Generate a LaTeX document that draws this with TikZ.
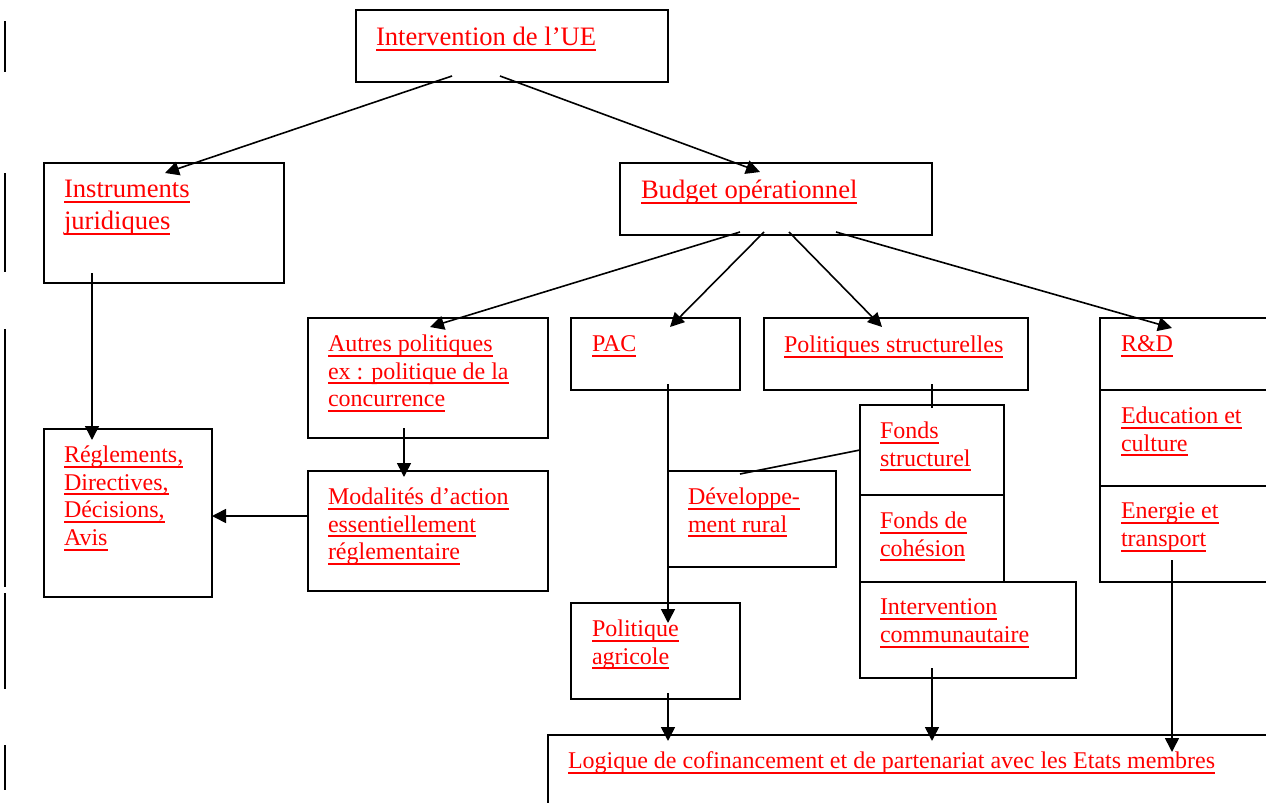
\documentclass[tikz,border=0pt]{standalone}
\usepackage{fontspec}
\setmainfont{Liberation Serif}
\usetikzlibrary{positioning,arrows.meta}
\newcommand{\undl}[1]{\setbox0=\hbox{#1}\rlap{\rule[-2.6pt]{\wd0}{1pt}}\box0}
\tikzset{box node/.style 2 args={draw,line width=0.9pt,rectangle,anchor=north west,inner sep=0pt,outer sep=0pt,
                                  minimum width=#1*0.5pt,minimum height=#2*0.5pt},
         txt node/.style={align=left,inner sep=0pt,outer sep=0pt,text=red,font=\fontsize{12}{13.8}\selectfont},
         big txt/.style={font=\fontsize{13.3}{16}\selectfont},
         arrow line/.style={line width=0.8pt,-{Triangle[length=7pt,width=7pt]}},
         plain line/.style={line width=0.8pt},
         bar line/.style={line width=1pt},
            }

\begin{document}
\begin{tikzpicture}[x=0.5pt,y=-0.5pt]
    \clip (0,0) rectangle (1266,803);

    \draw[bar line] (5,21) -- (5,72);
    \draw[bar line] (5,173) -- (5,272);
    \draw[bar line] (5,329) -- (5,587);
    \draw[bar line] (5,593) -- (5,689);
    \draw[bar line] (5,745) -- (5,790);

    \node[box node={312}{72}] (ue) at (356,10) {};
    \node[box node={240}{120}] (instr) at (44,163) {};
    \node[box node={312}{72}] (budget) at (620,163) {};
    \node[box node={240}{120}] (autres) at (308,318) {};
    \node[box node={169}{72}] (pac) at (571,318) {};
    \node[box node={264}{72}] (polstruct) at (764,318) {};
    \node[box node={180}{72}] (rd) at (1100,318) {};
    \node[box node={180}{96}] (educ) at (1100,390) {};
    \node[box node={180}{96}] (energie) at (1100,486) {};
    \node[box node={168}{168}] (regl) at (44,429) {};
    \node[box node={240}{120}] (modal) at (308,471) {};
    \node[box node={144}{90}] (fstruct) at (860,405) {};
    \node[box node={144}{87}] (fcohes) at (860,495) {};
    \node[box node={168}{96}] (dev) at (668,471) {};
    \node[box node={216}{96}] (intcom) at (860,582) {};
    \node[box node={169}{96}] (polagri) at (571,603) {};
    \node[box node={740}{100}] (logique) at (548,735) {};

    \node[txt node,big txt] (ue-t) [below right=8.5pt and 10pt of ue.north west] {\undl{Intervention de l’UE}};
    \node[txt node,big txt] (instr-t) [below right=8.5pt and 10pt of instr.north west] {\undl{Instruments}\\\undl{juridiques}};
    \node[txt node,big txt] (budget-t) [below right=8.5pt and 10.5pt of budget.north west] {\undl{Budget opérationnel}};
    \node[txt node] (autres-t) [below right=8.5pt and 10pt of autres.north west] {\undl{Autres politiques}\\\undl{ex : politique de la}\\\undl{concurrence}};
    \node[txt node] (pac-t) [below right=9pt and 10.5pt of pac.north west] {\undl{PAC}};
    \node[txt node] (polstruct-t) [below right=9pt and 10pt of polstruct.north west] {\undl{Politiques structurelles}};
    \node[txt node] (rd-t) [below right=9pt and 10.5pt of rd.north west] {\undl{R\&D}};
    \node[txt node] (educ-t) [below right=8.5pt and 10.5pt of educ.north west] {\undl{Education et}\\\undl{culture}};
    \node[txt node] (energie-t) [below right=8.5pt and 10.5pt of energie.north west] {\undl{Energie et}\\\undl{transport}};
    \node[txt node] (regl-t) [below right=8.5pt and 10pt of regl.north west] {\undl{Réglements,}\\\undl{Directives,}\\\undl{Décisions,}\\\undl{Avis}};
    \node[txt node] (modal-t) [below right=8.5pt and 10pt of modal.north west] {\undl{Modalités d’action}\\\undl{essentiellement}\\\undl{réglementaire}};
    \node[txt node] (fstruct-t) [below right=8.5pt and 10pt of fstruct.north west] {\undl{Fonds}\\\undl{structurel}};
    \node[txt node] (fcohes-t) [below right=8.5pt and 10pt of fcohes.north west] {\undl{Fonds de}\\\undl{cohésion}};
    \node[txt node] (dev-t) [below right=8.5pt and 10pt of dev.north west] {\undl{Développe-}\\\undl{ment rural}};
    \node[txt node] (intcom-t) [below right=8.5pt and 10pt of intcom.north west] {\undl{Intervention}\\\undl{communautaire}};
    \node[txt node] (polagri-t) [below right=8.5pt and 10.5pt of polagri.north west] {\undl{Politique}\\\undl{agricole}};
    \node[txt node] (logique-t) [below right=8.5pt and 10pt of logique.north west] {\undl{Logique de cofinancement et de partenariat avec les Etats membres}};

    \path[arrow line]
    ([shift={(96,-6)}]ue.south west) edge ([shift={(121,10)}]instr.north west)
    ([shift={(144,-6)}]ue.south west) edge ([shift={(140,9)}]budget.north west)
    ([shift={(120,-3)}]budget.south west) edge ([shift={(122,9)}]autres.north west)
    ([shift={(144,-3)}]budget.south west) edge ([shift={(99,9)}]pac.north west)
    ([shift={(169,-3)}]budget.south west) edge ([shift={(118,9)}]polstruct.north west)
    ([shift={(216,-3)}]budget.south west) edge ([shift={(72,10)}]rd.north west)
    ([shift={(48,-10)}]instr.south west) edge ([shift={(48,11)}]regl.north west)
    ([shift={(96,-10)}]autres.south west) edge ([shift={(96,6)}]modal.north west)
    ([shift={(0,45)}]modal.north west) edge ([shift={(0,87)}]regl.north east)
    ([shift={(97,-6)}]pac.south west) edge ([shift={(97,20)}]polagri.north west)
    ([shift={(97,-6)}]polagri.south west) edge ([shift={(120,6)}]logique.north west)
    ([shift={(72,-10)}]intcom.south west) edge ([shift={(384,6)}]logique.north west)
    ([shift={(72,-22)}]energie.south west) edge ([shift={(624,17)}]logique.north west);

    \path[plain line]
    ([shift={(168,-6)}]polstruct.south west) edge ([shift={(72,3)}]fstruct.north west)
    ([shift={(0,45)}]fstruct.north west) edge ([shift={(72,3)}]dev.north west);

\end{tikzpicture}
\end{document}
